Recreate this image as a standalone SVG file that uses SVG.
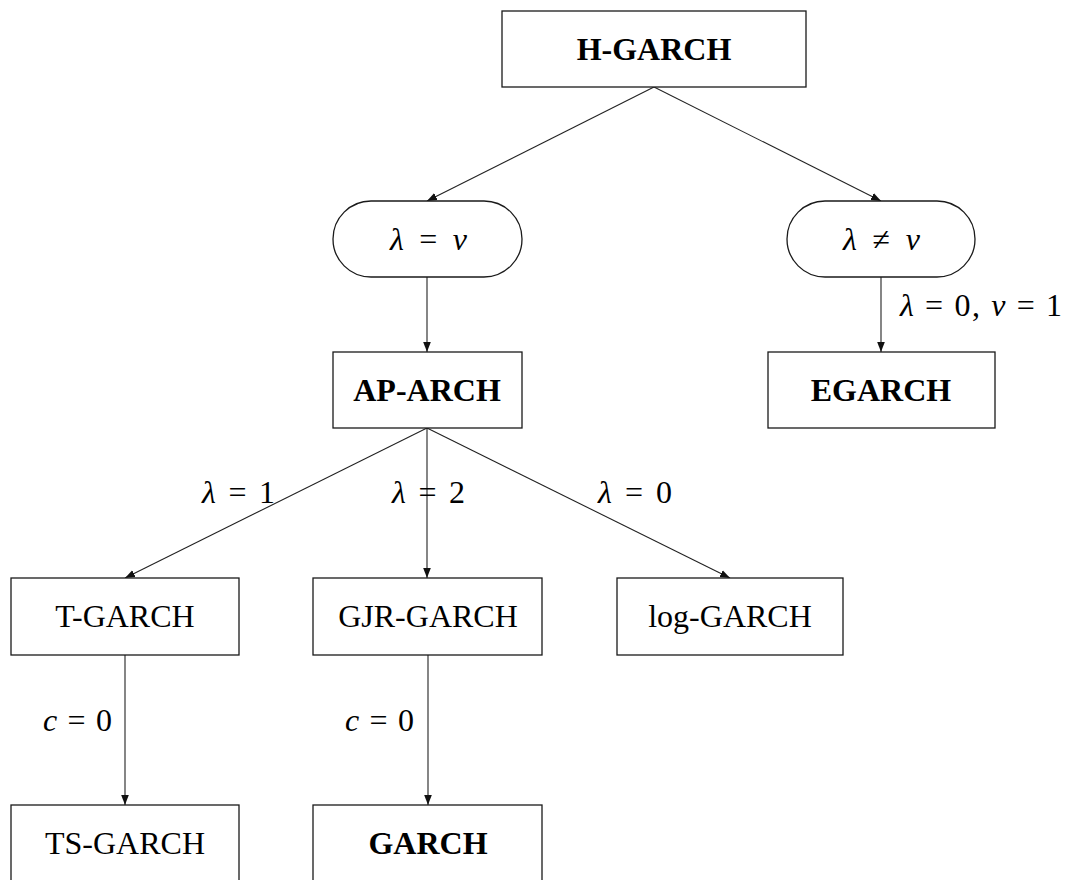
<svg xmlns="http://www.w3.org/2000/svg" width="1067" height="880" viewBox="0 0 1067 880">
  <style>
    .box { fill: #fff; stroke: #1a1a1a; stroke-width: 1.3; }
    .name { font-family: "Liberation Serif", "Times New Roman", serif; font-size: 32px; fill: #000; text-anchor: middle; }
    .bold { font-weight: bold; }
    .math { font-family: "Liberation Serif", "Times New Roman", serif; font-size: 32px; fill: #000; }
    .var { font-style: italic; }
    .edge { fill: none; stroke: #222; stroke-width: 1.1; marker-end: url(#tip); }
  </style>
  <defs>
    <marker id="tip" viewBox="0 0 10 10" refX="10" refY="5" markerWidth="10" markerHeight="10" markerUnits="userSpaceOnUse" orient="auto">
      <path d="M0,1.2 L10,5 L0,8.8 Z" fill="#111"/>
    </marker>
  </defs>

  <g id="connectors">
    <line class="edge" x1="654" y1="87" x2="427" y2="201"/>
    <line class="edge" x1="654" y1="87" x2="881" y2="201"/>
    <line class="edge" x1="427" y1="277" x2="427" y2="352"/>
    <line class="edge" x1="881" y1="277" x2="881" y2="352"/>
    <line class="edge" x1="427" y1="428" x2="125" y2="578"/>
    <line class="edge" x1="427" y1="428" x2="427" y2="578"/>
    <line class="edge" x1="427" y1="428" x2="730" y2="578"/>
    <line class="edge" x1="125" y1="655" x2="125" y2="805"/>
    <line class="edge" x1="428" y1="655" x2="428" y2="805"/>
    <text class="math" x="900" y="316" textLength="162" lengthAdjust="spacing"><tspan class="var">λ</tspan> = 0, <tspan class="var">ν</tspan> = 1</text>
    <text class="math" x="202" y="503" textLength="73" lengthAdjust="spacing"><tspan class="var">λ</tspan> = 1</text>
    <text class="math" x="392" y="503" textLength="73" lengthAdjust="spacing"><tspan class="var">λ</tspan> = 2</text>
    <text class="math" x="598" y="503" textLength="74" lengthAdjust="spacing"><tspan class="var">λ</tspan> = 0</text>
    <text class="math" x="43" y="731" textLength="69" lengthAdjust="spacing"><tspan class="var">c</tspan> = 0</text>
    <text class="math" x="345" y="731" textLength="69" lengthAdjust="spacing"><tspan class="var">c</tspan> = 0</text>
  </g>

  <g id="h-garch">
    <rect class="box" x="502" y="11" width="304" height="76"/>
    <text class="name bold" x="654" y="60">H-GARCH</text>
  </g>
  <g id="lambda-eq-nu">
    <rect class="box" x="333" y="201" width="189" height="76" rx="38" ry="38"/>
    <text class="math" x="390" y="250" textLength="77" lengthAdjust="spacing"><tspan class="var">λ</tspan> = <tspan class="var">ν</tspan></text>
  </g>
  <g id="lambda-ne-nu">
    <rect class="box" x="787" y="201" width="188" height="76" rx="38" ry="38"/>
    <text class="math" x="843" y="250" textLength="77" lengthAdjust="spacing"><tspan class="var">λ</tspan> ≠ <tspan class="var">ν</tspan></text>
  </g>
  <g id="ap-arch">
    <rect class="box" x="333" y="352" width="189" height="76"/>
    <text class="name bold" x="427" y="401">AP-ARCH</text>
  </g>
  <g id="egarch">
    <rect class="box" x="768" y="352" width="227" height="76"/>
    <text class="name bold" x="881" y="401">EGARCH</text>
  </g>
  <g id="t-garch">
    <rect class="box" x="11" y="578" width="228" height="77"/>
    <text class="name" x="125" y="627">T-GARCH</text>
  </g>
  <g id="gjr-garch">
    <rect class="box" x="313" y="578" width="229" height="77"/>
    <text class="name" x="428" y="627">GJR-GARCH</text>
  </g>
  <g id="log-garch">
    <rect class="box" x="617" y="578" width="226" height="77"/>
    <text class="name" x="730" y="627">log-GARCH</text>
  </g>
  <g id="ts-garch">
    <rect class="box" x="11" y="805" width="228" height="80"/>
    <text class="name" x="125" y="854">TS-GARCH</text>
  </g>
  <g id="garch">
    <rect class="box" x="313" y="805" width="229" height="80"/>
    <text class="name bold" x="428" y="854">GARCH</text>
  </g>
</svg>
